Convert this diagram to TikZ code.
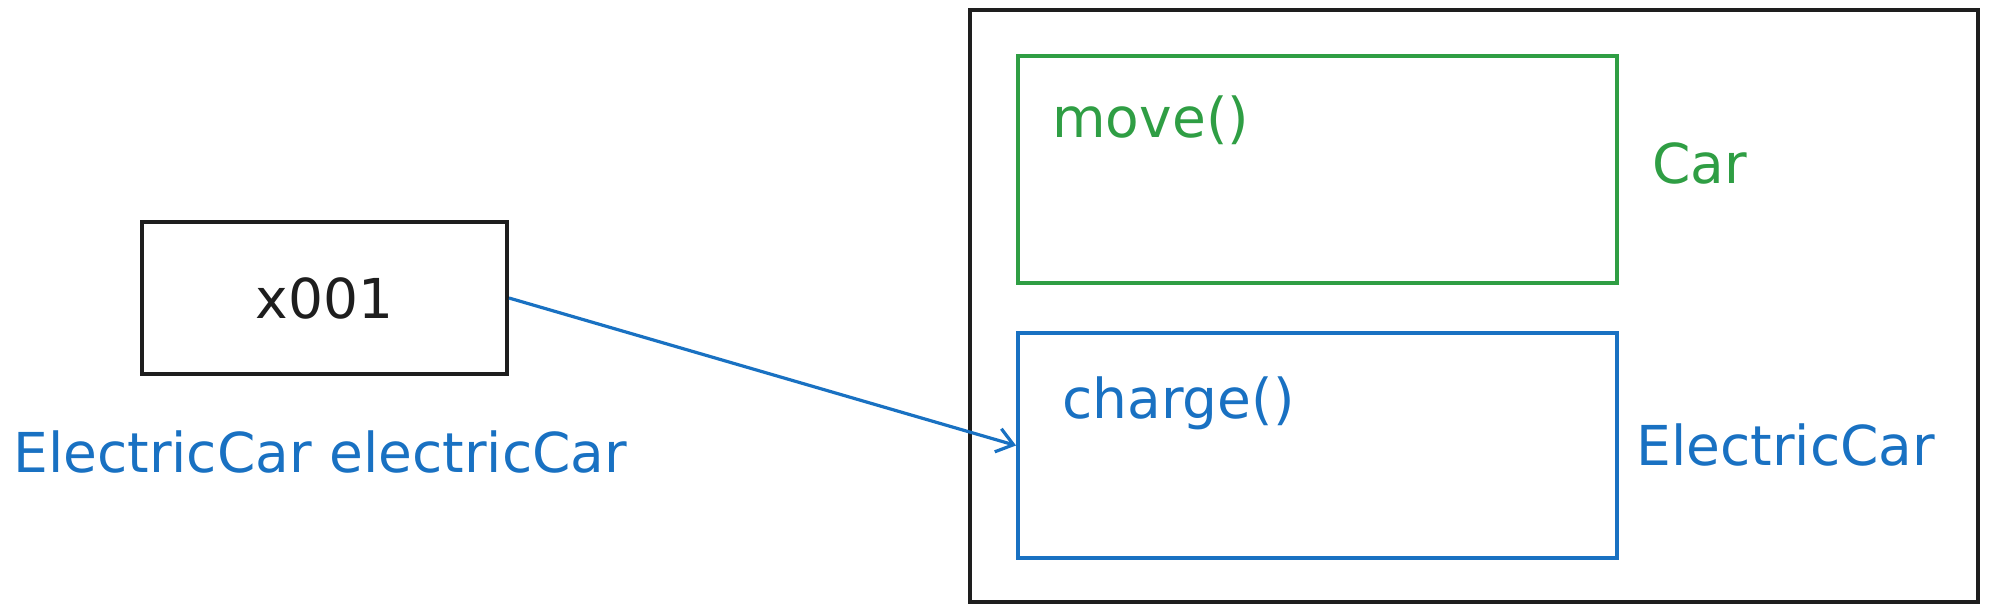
\documentclass[tikz,border=0pt]{standalone}
\usepackage{fontspec}
\setmainfont{DejaVu Sans}
\usetikzlibrary{arrows.meta}
\definecolor{inkblack}{HTML}{1E1E1E}
\definecolor{inkgreen}{HTML}{2F9E44}
\definecolor{inkblue}{HTML}{1971C2}
\def\fsize{\fontsize{27.5}{33}\selectfont}
\tikzset{
  objbox/.style={draw,line width=2pt,minimum width=#1,inner sep=0pt},
  txt/.style={anchor=base west,inner sep=0pt,font=\fsize},
}

\begin{document}
\begin{tikzpicture}[x=0.5pt,y=-0.5pt]
\useasboundingbox (0,0) rectangle (1989,611);
% reference box
\node[objbox=182.5pt,minimum height=76pt,color=inkblack,font=\fsize] (ref) at (324.5,298) {x001};
\node[txt,color=inkblue] (reftype) at (13,472) {ElectricCar electricCar};
% heap object
\node[objbox=504pt,minimum height=296pt,color=inkblack] (heap) at (1474,306) {};
\node[objbox=299.5pt,minimum height=113.5pt,color=inkgreen] (carpart) at (1317.5,169.5) {};
\node[objbox=299.5pt,minimum height=112.5pt,color=inkblue] (ecarpart) at (1317.5,445.5) {};
\node[txt,color=inkgreen] (move) at (1052,137) {move()};
\node[txt,color=inkgreen] (carname) at (1652,183) {Car};
\node[txt,color=inkblue] (charge) at (1062,418) {charge()};
\node[txt,color=inkblue] (ecarname) at (1636,465) {ElectricCar};
% pointer
\draw[inkblue,line width=1.6pt,-{Straight Barb[length=8pt,width=12pt]}] (ref.east) -- (ecarpart.west);
\end{tikzpicture}
\end{document}
